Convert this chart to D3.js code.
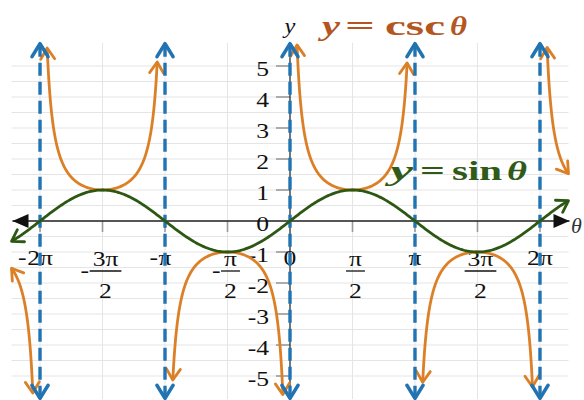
<!DOCTYPE html>
<html>
<head>
<meta charset="utf-8">
<script src="https://cdn.jsdelivr.net/npm/d3@7"></script>
<style>
    body { margin: 0; background: #fff; }
</style>
</head>
<body>
<div id="chart"></div>
<script>
const PI = Math.PI;

// x ticks in multiples of pi/2, with their labels
const xTickSteps = [-4, -3, -2, -1, 0, 1, 2, 3, 4];
const xTickLabels = ["-2π", "-3π/2", "-π", "-π/2", "0", "π/2", "π", "3π/2", "2π"];

// y ticks
const yTickValues = [-5, -4, -3, -2, -1, 0, 1, 2, 3, 4, 5];
const yTickLabels = ["-5", "-4", "-3", "-2", "-1", "0", "1", "2", "3", "4", "5"];

// vertical asymptotes of csc, in multiples of pi
const asymptoteSteps = [-2, -1, 0, 1, 2];

// csc branches: start / end of each piece (radians) and |csc| where the arrow sits
// (null = piece stops at the window edge instead)
const cscFrom = [-7, -2 * PI, -PI, 0, PI, 2 * PI];
const cscTo = [-2 * PI, -PI, 0, PI, 2 * PI, 7];
const cscFromLimit = [null, 5.58, 5.13, 5.68, 5.2, 5.6];
const cscToLimit = [5.55, 5.13, 5.6, 5.1, 5.35, null];

const thetaRange = [-7, 7];
const yRange = [-6, 6];

const W = 584, H = 400;
const svg = d3.select("#chart").append("svg")
    .attr("width", W)
    .attr("height", H);

const x = d3.scaleLinear().domain(thetaRange).range([11.5, 568.5]);
const y = d3.scaleLinear().domain(yRange).range([407, 35]);

const blue = "#2173b2", orange = "#dc8027", green = "#2d5814";
const serif = "'Liberation Serif', 'DejaVu Serif', 'Times New Roman', serif";

// markers
const defs = svg.append("defs");
function chevron(id, color, len, half, sw) {
    defs.append("marker")
        .attr("id", id)
        .attr("markerUnits", "userSpaceOnUse")
        .attr("viewBox", "-30 -15 34 30")
        .attr("markerWidth", 34)
        .attr("markerHeight", 30)
        .attr("refX", 0).attr("refY", 0)
        .attr("orient", "auto-start-reverse")
        .style("overflow", "visible")
        .append("path")
        .attr("d", `M${-len},${-half}L0,0L${-len},${half}`)
        .attr("fill", "none")
        .attr("stroke", color)
        .attr("stroke-width", sw)
        .attr("stroke-linecap", "round")
        .attr("stroke-linejoin", "round");
}
chevron("arr-blue", blue, 13, 8, 3.6);
chevron("arr-orange", orange, 11, 7, 2.8);
chevron("arr-green", green, 11, 7, 2.8);
defs.append("marker")
    .attr("id", "arr-axis")
    .attr("markerUnits", "userSpaceOnUse")
    .attr("viewBox", "-30 -15 34 30")
    .attr("markerWidth", 34)
    .attr("markerHeight", 30)
    .attr("refX", 0).attr("refY", 0)
    .attr("orient", "auto-start-reverse")
    .style("overflow", "visible")
    .append("path")
    .attr("d", "M-16,-7L0,0L-16,7Z")
    .attr("fill", "#111");

// grid
const grid = svg.append("g").attr("stroke", "#e5e5e5").attr("stroke-width", 1);
grid.selectAll(".h").data(d3.range(-10, 11).map(k => k / 2)).join("line")
    .attr("x1", x(thetaRange[0])).attr("x2", x(thetaRange[1]))
    .attr("y1", d => y(d)).attr("y2", d => y(d));
grid.selectAll(".v").data(xTickSteps).join("line")
    .attr("x1", d => x(d * PI / 2)).attr("x2", d => x(d * PI / 2))
    .attr("y1", y(5.75)).attr("y2", y(-5.75));

// tick marks
const ticks = svg.append("g").attr("stroke", "#9a9a9a").attr("stroke-width", 1.6);
ticks.selectAll(".xt").data(xTickSteps.filter(d => d !== 0)).join("line")
    .attr("x1", d => x(d * PI / 2)).attr("x2", d => x(d * PI / 2))
    .attr("y1", y(0)).attr("y2", y(0) + 11);
ticks.selectAll(".yt").data(yTickValues.filter(d => d !== 0)).join("line")
    .attr("x1", x(0) - 14).attr("x2", x(0))
    .attr("y1", d => y(d)).attr("y2", d => y(d));

// axes
svg.append("line")
    .attr("x1", x(thetaRange[0]) + 1).attr("x2", x(thetaRange[1]) + 1)
    .attr("y1", y(0)).attr("y2", y(0))
    .attr("stroke", "#222").attr("stroke-width", 1.5)
    .attr("marker-start", "url(#arr-axis)")
    .attr("marker-end", "url(#arr-axis)");
svg.append("line")
    .attr("x1", x(0)).attr("x2", x(0))
    .attr("y1", y(5.72)).attr("y2", y(-5.72))
    .attr("stroke", "#222").attr("stroke-width", 1.2);

// text helper: horizontally stretched serif text like the reference
const sx = 1.22;
function label(g, str, px, py, opts = {}) {
    return g.append("text")
        .attr("transform", `translate(${px},${py}) scale(${sx},1)`)
        .attr("text-anchor", opts.anchor || "middle")
        .attr("dominant-baseline", opts.baseline || "central")
        .attr("font-family", serif)
        .attr("font-size", opts.size || 21)
        .attr("font-style", opts.italic ? "italic" : "normal")
        .attr("fill", opts.color || "#111")
        .text(str);
}

const labels = svg.append("g");

// y tick labels
yTickValues.forEach((v, i) => {
    label(labels, yTickLabels[i], x(0) - 21, y(v) + 3, { anchor: "end" });
});

// x tick labels (negatives: the minus hangs to the left of the centred part)
xTickSteps.forEach((k, i) => {
    let txt = xTickLabels[i];
    const neg = txt.startsWith("-");
    if (neg) txt = txt.slice(1);
    const cx = x(k * PI / 2);
    let leftEdge, minusY;
    if (txt.includes("/")) {
        const [num, den] = txt.split("/");
        const c = cx + 3;
        const t = label(labels, num, c, 259);
        const w = t.node().getComputedTextLength() * sx + 6;
        labels.append("line")
            .attr("x1", c - w / 2).attr("x2", c + w / 2)
            .attr("y1", 271).attr("y2", 271)
            .attr("stroke", "#111").attr("stroke-width", 1.3);
        label(labels, den, c, 291);
        leftEdge = c - w / 2;
        minusY = 271;
    } else {
        const t = label(labels, txt, cx, 258);
        leftEdge = cx - t.node().getComputedTextLength() * sx / 2;
        minusY = 258;
    }
    if (neg) label(labels, "-", leftEdge - 0.5, minusY - 1, { anchor: "end" });
});

// axis names
label(labels, "y", x(0), 33, { italic: true, size: 20, baseline: "alphabetic" });
svg.append("text")
    .attr("x", 571).attr("y", 233)
    .attr("font-family", serif)
    .attr("font-style", "italic")
    .attr("font-size", 22)
    .attr("fill", "#333")
    .text("θ");

// curve titles, set piece by piece to mimic the wide math typesetting
function title(pieces, base, size, color) {
    pieces.forEach(([s, px, w, it]) => {
        svg.append("text")
            .attr("x", px).attr("y", base)
            .attr("font-family", serif)
            .attr("font-weight", "bold")
            .attr("font-style", it ? "italic" : "normal")
            .attr("font-size", size)
            .attr("fill", color)
            .attr("textLength", w)
            .attr("lengthAdjust", "spacingAndGlyphs")
            .text(s);
    });
}
title([["y", 322, 18, true], ["=", 345, 30], ["csc", 385, 60], ["θ", 450, 17, true]], 35, 27, "#b4561f");
title([["y", 390, 23, true], ["=", 420, 25], ["sin", 452, 50], ["θ", 507, 20, true]], 180, 28, "#2f5a17");

const line = d3.line().x(d => x(d[0])).y(d => y(d[1]));

// csc branches
const cscG = svg.append("g");
cscFrom.forEach((a, i) => {
    const b = cscTo[i];
    const t0 = cscFromLimit[i] ? a + Math.asin(1 / cscFromLimit[i]) : a;
    const t1 = cscToLimit[i] ? b - Math.asin(1 / cscToLimit[i]) : b;
    const n = 200;
    const pts = d3.range(n + 1).map(j => {
        const t = t0 + (t1 - t0) * j / n;
        return [t, 1 / Math.sin(t)];
    });
    cscG.append("path")
        .attr("d", line(pts))
        .attr("fill", "none")
        .attr("stroke", orange)
        .attr("stroke-width", 2.8)
        .attr("marker-start", "url(#arr-orange)")
        .attr("marker-end", "url(#arr-orange)");
});

// asymptotes
svg.append("g").selectAll("line").data(asymptoteSteps).join("line")
    .attr("x1", d => x(d * PI)).attr("x2", d => x(d * PI))
    .attr("y1", y(5.72)).attr("y2", y(-5.72))
    .attr("stroke", blue)
    .attr("stroke-width", 3.4)
    .attr("stroke-dasharray", "13,6")
    .attr("marker-start", "url(#arr-blue)")
    .attr("marker-end", "url(#arr-blue)");

// sine
const sinPts = d3.range(0, 401).map(j => {
    const t = thetaRange[0] + (thetaRange[1] - thetaRange[0]) * j / 400;
    return [t, Math.sin(t)];
});
svg.append("path")
    .attr("d", line(sinPts))
    .attr("fill", "none")
    .attr("stroke", green)
    .attr("stroke-width", 2.8)
    .attr("marker-start", "url(#arr-green)")
    .attr("marker-end", "url(#arr-green)");
</script>
</body>
</html>
